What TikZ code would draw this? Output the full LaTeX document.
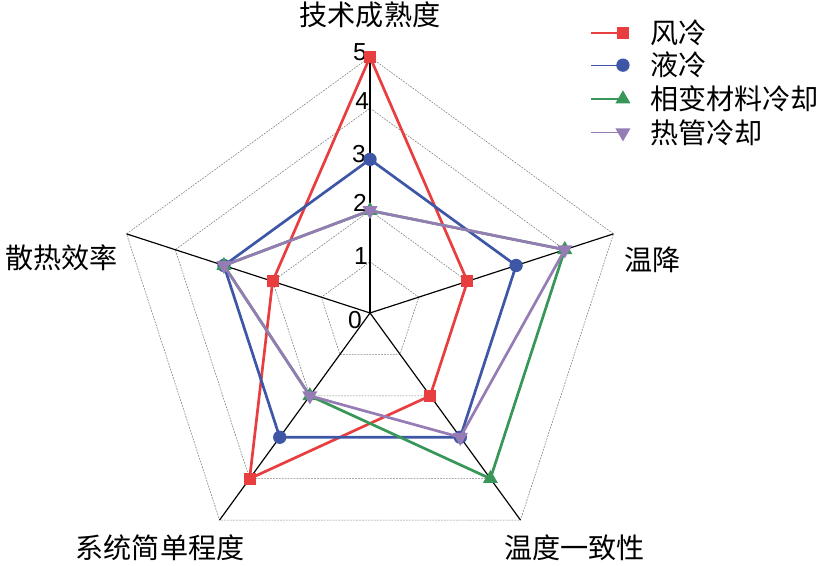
\documentclass[tikz,border=0pt]{standalone}
\usepackage{fontspec}
\setmainfont{Liberation Sans}
\newfontfamily\cjk{Noto Sans CJK SC}
\usetikzlibrary{shapes.geometric}

\definecolor{fengred}{RGB}{232,62,64}
\definecolor{yeblue}{RGB}{62,86,166}
\definecolor{xbgreen}{RGB}{56,150,88}
\definecolor{rgpurple}{RGB}{150,124,180}

\begin{document}
\begin{tikzpicture}[x=1.536cm,y=1.536cm,
  gridline/.style={gray,line width=0.5pt,dash pattern=on 1.5pt off 1pt},
  axisline/.style={black,line width=1pt},
  series/.style={line width=2.3pt,line join=round},
  keyline/.style={line width=1.1pt},
  sqmark/.style={rectangle,fill=fengred,minimum size=0.36cm,inner sep=0pt},
  dotmark/.style={circle,fill=yeblue,minimum size=0.4cm,inner sep=0pt},
  upmark/.style={regular polygon,regular polygon sides=3,fill=xbgreen,minimum size=0.52cm,inner sep=0pt},
  downmark/.style={regular polygon,regular polygon sides=3,shape border rotate=180,fill=rgpurple,minimum size=0.52cm,inner sep=0pt},
  axislabel/.style={font=\cjk\fontsize{24}{28}\selectfont,inner sep=0pt},
  keytext/.style={font=\cjk\fontsize{24}{28}\selectfont,anchor=west,inner sep=0pt},
  ticklabel/.style={font=\fontsize{21}{24}\selectfont,anchor=east,inner sep=0pt}]
\useasboundingbox (-7.227,-4.941) rectangle (9.082,6.113);

% grid
\draw[gridline] (90:1) -- (18:1) -- (-54:1) -- (-126:1) -- (162:1) -- cycle;
\draw[gridline] (90:2) -- (18:2) -- (-54:2) -- (-126:2) -- (162:2) -- cycle;
\draw[gridline] (90:3) -- (18:3) -- (-54:3) -- (-126:3) -- (162:3) -- cycle;
\draw[gridline] (90:4) -- (18:4) -- (-54:4) -- (-126:4) -- (162:4) -- cycle;
\draw[gridline] (90:5) -- (18:5) -- (-54:5) -- (-126:5) -- (162:5) -- cycle;

% axes
\coordinate (o) at (0,0);
\coordinate (ax1) at (90:5);
\coordinate (ax2) at (18:5);
\coordinate (ax3) at (-54:5);
\coordinate (ax4) at (-126:5);
\coordinate (ax5) at (162:5);
\draw[axisline] (o) -- (ax1);
\draw[axisline] (o) -- (ax2);
\draw[axisline] (o) -- (ax3);
\draw[axisline] (o) -- (ax4);
\draw[axisline] (o) -- (ax5);

% scale
\node[ticklabel,xshift=-0.24cm,yshift=-0.21cm] (t0) at (0,0) {0};
\node[ticklabel,xshift=-0.06cm,yshift=0.18cm] (t1) at (90:1) {1};
\node[ticklabel,xshift=-0.09cm,yshift=0.22cm] (t2) at (90:2) {2};
\node[ticklabel,xshift=-0.12cm,yshift=0.16cm] (t3) at (90:3) {3};
\node[ticklabel,xshift=-0.02cm,yshift=0.2cm] (t4) at (90:4) {4};
\node[ticklabel,xshift=-0.09cm,yshift=0.15cm] (t5) at (90:5) {5};

% axis names
\node[axislabel] (n1) at (0,5.82) {技术成熟度};
\node[axislabel] (n2) at (5.51,1.04) {温降};
\node[axislabel] (n3) at (4.0,-4.59) {温度一致性};
\node[axislabel] (n4) at (-4.1,-4.59) {系统简单程度};
\node[axislabel] (n5) at (-6.02,1.07) {散热效率};

% 风冷
\coordinate (feng1) at (90:5);
\coordinate (feng2) at (18:2);
\coordinate (feng3) at (-54:2);
\coordinate (feng4) at (-126:4);
\coordinate (feng5) at (162:2);
\draw[series,fengred] (feng1) -- (feng2) -- (feng3) -- (feng4) -- (feng5) -- cycle;
\node[sqmark] (fm1) at (feng1) {};
\node[sqmark] (fm2) at (feng2) {};
\node[sqmark] (fm3) at (feng3) {};
\node[sqmark] (fm4) at (feng4) {};
\node[sqmark] (fm5) at (feng5) {};

% 液冷
\coordinate (ye1) at (90:3);
\coordinate (ye2) at (18:3);
\coordinate (ye3) at (-54:3);
\coordinate (ye4) at (-126:3);
\coordinate (ye5) at (162:3);
\draw[series,yeblue] (ye1) -- (ye2) -- (ye3) -- (ye4) -- (ye5) -- cycle;
\node[dotmark] (ym1) at (ye1) {};
\node[dotmark] (ym2) at (ye2) {};
\node[dotmark] (ym3) at (ye3) {};
\node[dotmark] (ym4) at (ye4) {};
\node[dotmark] (ym5) at (ye5) {};

% 相变材料冷却
\coordinate (xb1) at (90:2);
\coordinate (xb2) at (18:4);
\coordinate (xb3) at (-54:4);
\coordinate (xb4) at (-126:2);
\coordinate (xb5) at (162:3);
\draw[series,xbgreen] (xb1) -- (xb2) -- (xb3) -- (xb4) -- (xb5) -- cycle;
\node[upmark] (xm1) at (xb1) {};
\node[upmark] (xm2) at (xb2) {};
\node[upmark] (xm3) at (xb3) {};
\node[upmark] (xm4) at (xb4) {};
\node[upmark] (xm5) at (xb5) {};

% 热管冷却
\coordinate (rg1) at (90:2);
\coordinate (rg2) at (18:4);
\coordinate (rg3) at (-54:3);
\coordinate (rg4) at (-126:2);
\coordinate (rg5) at (162:3);
\draw[series,rgpurple] (rg1) -- (rg2) -- (rg3) -- (rg4) -- (rg5) -- cycle;
\node[downmark] (rm1) at (rg1) {};
\node[downmark] (rm2) at (rg2) {};
\node[downmark] (rm3) at (rg3) {};
\node[downmark] (rm4) at (rg4) {};
\node[downmark] (rm5) at (rg5) {};

% legend
\coordinate (k1a) at (4.32,5.47);
\coordinate (k1b) at (4.94,5.47);
\draw[keyline,fengred] (k1a) -- (k1b);
\node[sqmark] (k1m) at (k1b) {};
\node[keytext] (k1t) at (5.47,5.47) {风冷};
\coordinate (k2a) at (4.32,4.84);
\coordinate (k2b) at (4.94,4.84);
\draw[keyline,yeblue] (k2a) -- (k2b);
\node[dotmark] (k2m) at (k2b) {};
\node[keytext] (k2t) at (5.47,4.84) {液冷};
\coordinate (k3a) at (4.32,4.18);
\coordinate (k3b) at (4.94,4.18);
\draw[keyline,xbgreen] (k3a) -- (k3b);
\node[upmark] (k3m) at (k3b) {};
\node[keytext] (k3t) at (5.47,4.18) {相变材料冷却};
\coordinate (k4a) at (4.32,3.52);
\coordinate (k4b) at (4.94,3.52);
\draw[keyline,rgpurple] (k4a) -- (k4b);
\node[downmark] (k4m) at (k4b) {};
\node[keytext] (k4t) at (5.47,3.52) {热管冷却};
\end{tikzpicture}
\end{document}
